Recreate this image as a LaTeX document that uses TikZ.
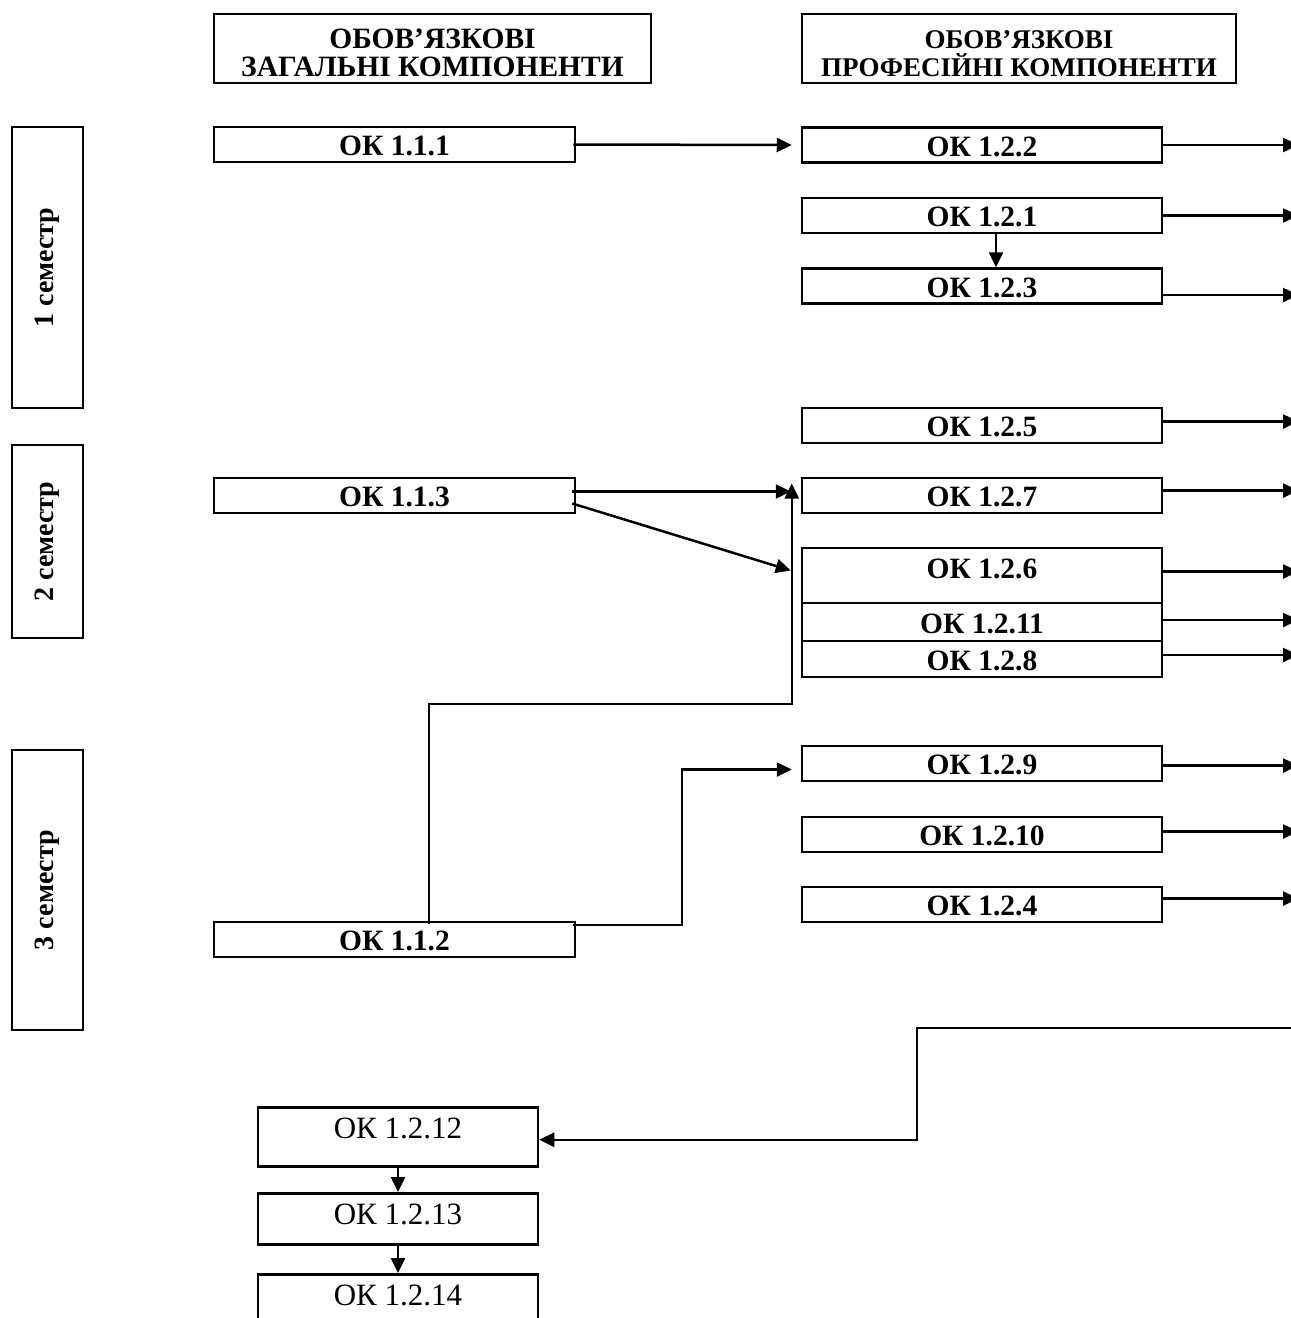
\documentclass[tikz,border=0pt]{standalone}
\usepackage{fontspec}
\setmainfont{Liberation Serif}
\usepackage{tikz}
\usetikzlibrary{arrows.meta}

\tikzset{
  okbox/.style={draw, line width=2.5pt, minimum width=361pt, minimum height=35pt, inner sep=0pt,
    text height=22pt, text depth=0pt, font=\bfseries\fontsize{29.5}{30}\selectfont},
  headbox/.style={draw, line width=2.5pt, minimum height=69pt, inner sep=0pt, align=center,
    text height=55pt, text depth=0pt, font=\bfseries\fontsize{29.5}{28}\selectfont},
  sembox/.style={draw, line width=2.5pt, rotate=90, minimum height=71pt, inner sep=0pt,
    font=\bfseries\fontsize{28}{30}\selectfont},
  lowbox/.style={draw, line width=2.5pt, minimum width=280pt, anchor=north, inner xsep=0pt,
    inner ysep=11pt, text height=20pt, font=\fontsize{31}{33}\selectfont},
  arr/.style={line width=2.5pt, -{Triangle[length=15pt,width=14pt]}}
}

\begin{document}
\begin{tikzpicture}[x=1pt, y=-1pt]
\useasboundingbox (0,0) rectangle (1291,1318);

% headers
\node[headbox, minimum width=437pt] (hgen) at (432.5,48.5) {ОБОВ’ЯЗКОВІ\\ЗАГАЛЬНІ КОМПОНЕНТИ};
\node[headbox, minimum width=434pt, font=\bfseries\fontsize{27}{28}\selectfont] (hprof) at (1019,48.5) {ОБОВ’ЯЗКОВІ\\ПРОФЕСІЙНІ КОМПОНЕНТИ};

% semesters
\node[sembox, minimum width=281pt] (sem1) at (47.5,267.5) {1 семестр};
\node[sembox, minimum width=193pt] (sem2) at (47.5,541.5) {2 семестр};
\node[sembox, minimum width=280pt] (sem3) at (47.5,890) {3 семестр};

% general components
\node[okbox] (k111) at (394.5,144.5) {ОК 1.1.1};
\node[okbox] (k113) at (394.5,495.5) {ОК 1.1.3};
\node[okbox] (k112) at (394.5,939.5) {ОК 1.1.2};

% professional components
\node[okbox, minimum width=360pt] (k122) at (982,145) {ОК 1.2.2};
\node[okbox, minimum width=360pt] (k121) at (982,215.5) {ОК 1.2.1};
\node[okbox, minimum width=360pt] (k123) at (982,286) {ОК 1.2.3};
\node[okbox, minimum width=360pt] (k125) at (982,425.5) {ОК 1.2.5};
\node[okbox, minimum width=360pt] (k127) at (982,495.5) {ОК 1.2.7};
\node[okbox, minimum width=360pt, minimum height=55pt, text depth=17pt] (k126) at (982,575.5) {ОК 1.2.6};
\node[okbox, minimum width=360pt, minimum height=38pt] (k1211) at (982,622) {ОК 1.2.11};
\node[okbox, minimum width=360pt, minimum height=36pt] (k128) at (982,659) {ОК 1.2.8};
\node[okbox, minimum width=360pt] (k129) at (982,763.5) {ОК 1.2.9};
\node[okbox, minimum width=360pt] (k1210) at (982,834.5) {ОК 1.2.10};
\node[okbox, minimum width=360pt] (k124) at (982,904.5) {ОК 1.2.4};

% next semesters
\node[lowbox, text depth=17pt] (k1212) at (398,1106) {ОК 1.2.12};
\node[lowbox, text depth=9pt] (k1213) at (398,1192) {ОК 1.2.13};
\node[lowbox, text depth=20pt] (k1214) at (398,1273) {ОК 1.2.14};

\coordinate (rim) at (1298,0);
\coordinate (jog) at (0,704);
\coordinate (bend) at (682,0);
\coordinate (drop) at (917,0);
\coordinate (back) at (1295,1028);

% arrows to the right edge
\foreach \n/\s in {k122/0, k121/0, k123/-9, k125/4, k127/5, k126/4, k1211/2, k128/4, k129/-2, k1210/3, k124/6}
  \draw[arr] ([yshift=\s pt]\n.east) coordinate (a) -- (a -| rim);

\draw[arr] ([xshift=-3pt]k111.east) -- ([xshift=-9pt]k122.west);
\draw[arr] ([xshift=14pt]k121.south) -- ([xshift=14pt]k123.north);

\draw[arr] ([xshift=-4pt,yshift=4pt]k113.east) -- ([xshift=-10pt,yshift=4pt]k127.west);
\draw[arr] ([xshift=-4pt,yshift=-8pt]k113.east) -- ([xshift=-10pt,yshift=5pt]k126.west);

\draw[arr] ([xshift=34.5pt,yshift=-3pt]k112.north) coordinate (b)
  -- (b |- jog) -| ([xshift=-9pt,yshift=12pt]k127.west);
\draw[arr] ([xshift=-3pt,yshift=14.5pt]k112.east) coordinate (c)
  -- (c -| bend) |- ([xshift=-9pt,yshift=-6pt]k129.west);

\draw[arr] (back) -- (back -| drop) |- ([yshift=-3pt]k1212.east);
\draw[arr] (k1212) -- (k1213);
\draw[arr] (k1213) -- (k1214);
\end{tikzpicture}
\end{document}
